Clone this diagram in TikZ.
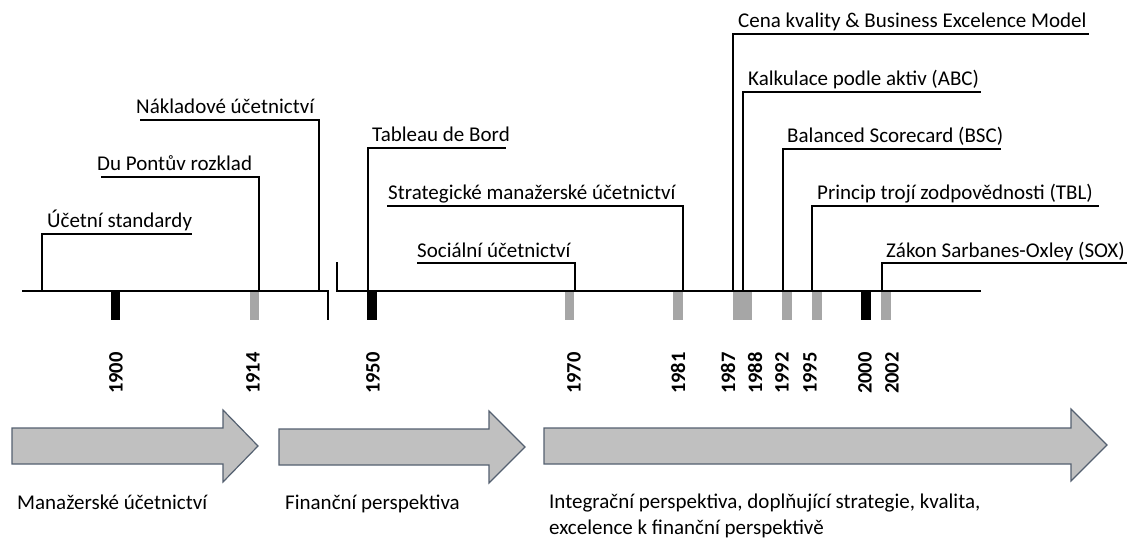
\documentclass[tikz,border=0pt]{standalone}
\usepackage{fontspec}
\setmainfont{Carlito}
\definecolor{bargray}{RGB}{166,166,166}
\definecolor{arrfill}{RGB}{192,192,192}
\definecolor{arrdraw}{RGB}{84,96,112}
\tikzset{
  tl/.style={line width=2pt, black},
  leader/.style={line width=1.3pt, black},
  lbl/.style={inner sep=0pt, anchor=base west, font=\fontsize{21}{25}\selectfont},
  yr/.style={inner sep=0pt, anchor=west, rotate=90, font=\fontsize{20.5}{24}\selectfont\bfseries},
  gbar/.style={fill=bargray, draw=none},
  kbar/.style={fill=black, draw=none},
  bigarrow/.style={fill=arrfill, draw=arrdraw, line width=1.2pt, line join=miter},
  phase/.style={inner sep=0pt, anchor=base west, align=left, font=\fontsize{21}{25.5}\selectfont}
}
\newcommand{\leadlbl}[6]{%
  % #1 name, #2 foot x, #3 line y, #4 far x, #5 text x, #6 text
  \coordinate (#1foot) at (#2,291);
  \coordinate (#1far) at (#4,#3);
  \node[lbl] (#1) at (#5,#3-6) {#6};
  \draw[leader] (#1foot) |- (#1far);
}
\begin{document}
\begin{tikzpicture}[x=1pt,y=-1pt]
\useasboundingbox (0,0) rectangle (1127,540);
% bars
\fill[kbar] (111,291) rectangle (120,320);
\fill[gbar] (250,291) rectangle (259,320);
\fill[kbar] (367,291) rectangle (377,320);
\fill[gbar] (565,291) rectangle (574,320);
\fill[gbar] (673,291) rectangle (683,320);
\fill[gbar] (733,291) rectangle (752,320);
\fill[gbar] (782,291) rectangle (792,320);
\fill[gbar] (812,291) rectangle (822,320);
\fill[kbar] (861,291) rectangle (871,320);
\fill[gbar] (881,291) rectangle (891,320);
% timeline
\coordinate (a0) at (22,291);
\coordinate (a1) at (328,291);
\coordinate (a2) at (328,320);
\coordinate (b0) at (337,262);
\coordinate (b1) at (337,291);
\coordinate (b2) at (981,291);
\draw[tl] (a0) -- (a1) -- (a2);
\draw[tl] (b0) -- (b1) -- (b2);
% labels with leaders
\leadlbl{ucs}{42}{234}{192}{47}{Účetní standardy}
\leadlbl{dup}{259}{177}{101}{97}{Du Pontův rozklad}
\leadlbl{nak}{319}{120}{140}{136}{Nákladové účetnictví}
\leadlbl{tab}{368}{148}{506}{372}{Tableau de Bord}
\leadlbl{str}{683}{206}{387}{388}{Strategické manažerské účetnictví}
\leadlbl{soc}{575}{263}{417}{417}{Sociální účetnictví}
\leadlbl{cen}{733}{34}{1089}{738}{Cena kvality \& Business Excelence Model}
\leadlbl{kal}{743}{92}{981}{748}{Kalkulace podle aktiv (ABC)}
\leadlbl{bsc}{783}{149}{1001}{787}{Balanced Scorecard (BSC)}
\leadlbl{tbl}{812}{206}{1099}{817}{Princip trojí zodpovědnosti (TBL)}
\leadlbl{sox}{882}{263}{1127}{886}{Zákon Sarbanes-Oxley (SOX)}
% years
\node[yr] (y1900) at (116,394) {1900};
\node[yr] (y1914) at (253,394) {1914};
\node[yr] (y1950) at (373,394) {1950};
\node[yr] (y1970) at (574,394) {1970};
\node[yr] (y1981) at (678,394) {1981};
\node[yr] (y1987) at (728,394) {1987};
\node[yr] (y1988) at (755,394) {1988};
\node[yr] (y1992) at (782,394) {1992};
\node[yr] (y1995) at (810,394) {1995};
\node[yr] (y2000) at (865,394) {2000};
\node[yr] (y2002) at (892,394) {2002};
% phase arrows
\draw[bigarrow] (12,428) -- (223,428) -- (223,410) -- (258,446) -- (223,482) -- (223,464) -- (12,464) -- cycle;
\draw[bigarrow] (279,429) -- (489,429) -- (489,411) -- (525,447) -- (489,483) -- (489,465) -- (279,465) -- cycle;
\draw[bigarrow] (544,428) -- (1071,428) -- (1071,409) -- (1107,445) -- (1071,481) -- (1071,464) -- (544,464) -- cycle;
% phase labels
\node[phase] (p1) at (17,509) {Manažerské účetnictví};
\node[phase] (p2) at (285,509) {Finanční perspektiva};
\node[phase] (p3) at (549,534) {Integrační perspektiva, doplňující strategie, kvalita,\\excelence k finanční perspektivě};
\end{tikzpicture}
\end{document}
